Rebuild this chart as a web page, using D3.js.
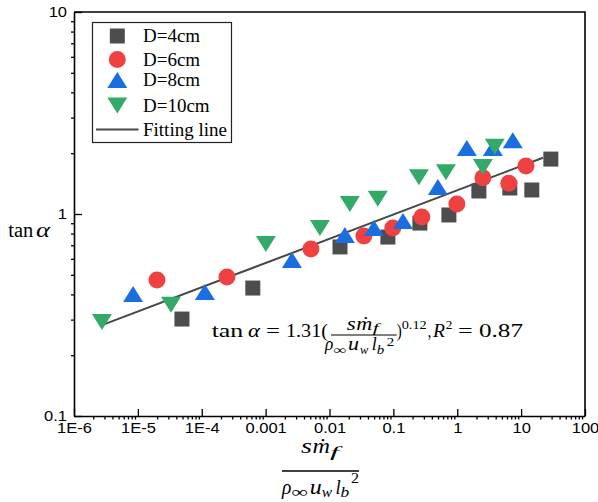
<!DOCTYPE html>
<html>
<head>
<meta charset="utf-8">
<script src="https://cdn.jsdelivr.net/npm/d3@7"></script>
<style>
  body { margin: 0; background: #fff; }
  svg { display: block; }
</style>
</head>
<body>
<svg id="chart" width="598" height="502"></svg>
<script>
// ---- data ----
const seriesNames = ["D=4cm", "D=6cm", "D=8cm", "D=10cm"];
const seriesColors = ["#4d4d4d", "#ef4142", "#1a6ee0", "#34aa68"];

const d4x = [4.9e-5, 6.3e-4, 0.0146, 0.082, 0.26, 0.74, 2.18, 6.65, 14.7, 29.2];
const d4y = [0.302, 0.430, 0.687, 0.769, 0.902, 0.989, 1.30, 1.345, 1.315, 1.87];

const d6x = [1.99e-5, 2.48e-4, 5.12e-3, 0.0345, 0.098, 0.279, 0.986, 2.52, 6.42, 11.9];
const d6y = [0.471, 0.488, 0.671, 0.778, 0.853, 0.966, 1.12, 1.51, 1.42, 1.73];

const d8x = [8.4e-6, 1.12e-4, 2.58e-3, 0.0174, 0.0495, 0.141, 0.497, 1.41, 3.61, 7.41];
const d8y = [0.402, 0.411, 0.592, 0.787, 0.853, 0.923, 1.36, 2.12, 2.12, 2.32];

const d10x = [2.74e-6, 3.3e-5, 1.01e-3, 7.08e-3, 0.0208, 0.057, 0.251, 0.664, 2.52, 3.87];
const d10y = [0.292, 0.355, 0.710, 0.853, 1.12, 1.19, 1.52, 1.61, 1.71, 2.15];

const xTickValues = [1e-6, 1e-5, 1e-4, 1e-3, 1e-2, 1e-1, 1, 10, 100];
const xTickLabels = ["1E-6", "1E-5", "1E-4", "0.001", "0.01", "0.1", "1", "10", "100"];
const yTickValues = [0.1, 1, 10];
const yTickLabels = ["0.1", "1", "10"];

// power-law fit: tan(alpha) = a * X^b
const fitCoef = 1.31;
const fitExp = 0.12;
const fitR2 = 0.87;
const fitRange = [2.8e-6, 22];

// ---- layout ----
const W = 598, H = 502;
const margin = { top: 12, right: 13, bottom: 86, left: 74 };
const svg = d3.select("#chart");

const x = d3.scaleLog().domain([1e-6, 100]).range([margin.left, W - margin.right]);
const y = d3.scaleLog().domain([0.1, 10]).range([H - margin.bottom, margin.top]);

const sansFont = "'Liberation Sans', Arial, sans-serif";
const serifFont = "'Liberation Serif', 'Times New Roman', serif";

function minorTicks(majors) {
  const out = [];
  for (let i = 0; i < majors.length - 1; i++)
    for (let m = 2; m <= 9; m++) out.push(majors[i] * m);
  return out;
}

// widen axis labels a little (wide sans face)
function widen(sel, k) {
  sel.each(function () {
    const w = this.getComputedTextLength();
    d3.select(this).attr("textLength", w * k).attr("lengthAdjust", "spacingAndGlyphs");
  });
}

// ---- x axis ----
const gxMinor = svg.append("g")
  .attr("transform", `translate(0,${y.range()[0]})`)
  .call(d3.axisBottom(x).tickValues(minorTicks(xTickValues)).tickSize(3.5).tickFormat(""));
gxMinor.select(".domain").remove();

const gx = svg.append("g")
  .attr("transform", `translate(0,${y.range()[0]})`)
  .call(d3.axisBottom(x).tickValues(xTickValues)
    .tickSizeInner(-7).tickSizeOuter(0).tickPadding(7)
    .tickFormat((d, i) => xTickLabels[i]));

// ---- y axis ----
const gyMinor = svg.append("g")
  .attr("transform", `translate(${x.range()[0]},0)`)
  .call(d3.axisLeft(y).tickValues(minorTicks(yTickValues)).tickSize(3).tickFormat(""));
gyMinor.select(".domain").remove();

const gy = svg.append("g")
  .attr("transform", `translate(${x.range()[0]},0)`)
  .call(d3.axisLeft(y).tickValues(yTickValues)
    .tickSizeInner(-8).tickSizeOuter(0).tickPadding(7)
    .tickFormat((d, i) => yTickLabels[i]));

[gx, gy, gxMinor, gyMinor].forEach(g => {
  g.attr("color", "#000");
  g.selectAll(".tick line").attr("stroke-width", 1.3);
  g.selectAll(".domain").attr("stroke-width", 1.6);
  g.selectAll("text").attr("font-family", sansFont).attr("font-size", 14).attr("fill", "#000");
});
widen(gx.selectAll(".tick text"), 1.18);
widen(gy.selectAll(".tick text"), 1.18);

// top and right frame
svg.append("path")
  .attr("d", `M${x.range()[0]},${y.range()[1]}H${x.range()[1]}V${y.range()[0]}`)
  .attr("fill", "none").attr("stroke", "#000").attr("stroke-width", 1.6);

// ---- fitting line ----
const fitPts = fitRange.map(v => [v, fitCoef * Math.pow(v, fitExp)]);
svg.append("path")
  .attr("d", d3.line().x(d => x(d[0])).y(d => y(d[1]))(fitPts))
  .attr("fill", "none").attr("stroke", "#474747").attr("stroke-width", 2);

// ---- markers ----
const shapes = [
  d3.symbol(d3.symbolSquare, 225)(),
  d3.symbol(d3.symbolCircle, 227)(),
  "M0,-8L10,8L-10,8Z",
  "M0,8L10,-8L-10,-8Z"
];
const seriesX = [d4x, d6x, d8x, d10x];
const seriesY = [d4y, d6y, d8y, d10y];

seriesX.forEach((xs, s) => {
  const pts = xs.map((v, i) => [v, seriesY[s][i]]);
  svg.append("g").selectAll("path").data(pts).join("path")
    .attr("d", shapes[s])
    .attr("transform", d => `translate(${x(d[0])},${y(d[1])})`)
    .attr("fill", seriesColors[s]);
});

// ---- legend ----
const lg = svg.append("g");
lg.append("rect").attr("x", 92.5).attr("y", 22.5).attr("width", 139).attr("height", 120)
  .attr("fill", "#fff").attr("stroke", "#222").attr("stroke-width", 1.2);
const rowY = [36, 59.5, 80, 105.5];
seriesNames.forEach((name, s) => {
  lg.append("path").attr("d", shapes[s])
    .attr("transform", `translate(117.3,${rowY[s]})`).attr("fill", seriesColors[s]);
  lg.append("text").attr("x", 143).attr("y", rowY[s] + 6)
    .attr("font-family", serifFont).attr("font-size", 19).text(name);
});
lg.append("line").attr("x1", 96).attr("x2", 138.5).attr("y1", 129.5).attr("y2", 129.5)
  .attr("stroke", "#474747").attr("stroke-width", 2);
lg.append("text").attr("x", 143).attr("y", 135.5)
  .attr("font-family", serifFont).attr("font-size", 19).text("Fitting line");

// ---- math text helper ----
function mathRun(parent, pieces) {
  pieces.forEach(p => {
    const t = parent.append("text")
      .attr("x", p.x).attr("y", p.y)
      .attr("font-family", serifFont)
      .attr("font-size", p.s)
      .attr("font-style", p.it ? "italic" : "normal")
      .text(p.t);
    if (p.w) t.attr("textLength", p.w).attr("lengthAdjust", "spacingAndGlyphs");
  });
}

// equation annotation
const eq = svg.append("g");
const B = 337, S = 18.5, s = 12;
mathRun(eq, [
  { t: "tan", x: 211.7, y: B, s: S, w: 31.6 },
  { t: "α", x: 248, y: B, s: S, it: true, w: 12 },
  { t: "=", x: 266, y: B, s: S, w: 14 },
  { t: fitCoef.toFixed(2) + "(", x: 286, y: B, s: S, w: 42 },
  // numerator
  { t: "s", x: 346.7, y: 330, s: S, it: true, w: 9 },
  { t: "ṁ", x: 356.2, y: 330, s: S, it: true, w: 16 },
  { t: "f", x: 372.8, y: 332, s: s, it: true, w: 6 },
  // denominator
  { t: "ρ", x: 325, y: 350, s: S, it: true, w: 8.3 },
  { t: "∞", x: 333.3, y: 354, s: s, w: 13.3 },
  { t: "u", x: 348, y: 350, s: S, it: true, w: 11 },
  { t: "w", x: 360, y: 354, s: s, it: true, w: 8.3 },
  { t: "l", x: 371.7, y: 350, s: S, it: true, w: 5 },
  { t: "b", x: 376.7, y: 354, s: s, it: true, w: 7.5 },
  { t: "2", x: 386.7, y: 346, s: s, w: 7.5 },
  { t: ")", x: 396.7, y: B, s: S, w: 5 },
  { t: String(fitExp), x: 401.7, y: 329, s: s, w: 25 },
  { t: ",", x: 427.7, y: B, s: S, w: 3.5 },
  { t: "R", x: 433, y: B, s: S, it: true, w: 12 },
  { t: "2", x: 445.7, y: 329, s: s, w: 6.6 },
  { t: "=", x: 458, y: B, s: S, w: 14.7 },
  { t: fitR2.toFixed(2), x: 479, y: B, s: S, w: 44 }
]);
eq.append("line").attr("x1", 331).attr("x2", 396.7).attr("y1", 335).attr("y2", 335)
  .attr("stroke", "#000").attr("stroke-width", 1.2);

// x axis title (fraction)
const xt = svg.append("g");
const XS = 21, xs = 15;
mathRun(xt, [
  { t: "s", x: 301, y: 453, s: XS, it: true, w: 11 },
  { t: "ṁ", x: 312.5, y: 453, s: XS, it: true, w: 17.5 },
  { t: "f", x: 330, y: 457, s: xs, it: true, w: 9 },
  { t: "ρ", x: 282, y: 493.7, s: XS, it: true, w: 9.4 },
  { t: "∞", x: 291.4, y: 497, s: xs, w: 16.6 },
  { t: "u", x: 309.7, y: 493.7, s: XS, it: true, w: 12 },
  { t: "w", x: 321.7, y: 497, s: xs, it: true, w: 10.3 },
  { t: "l", x: 335.4, y: 493.7, s: XS, it: true, w: 5.2 },
  { t: "b", x: 340.6, y: 497, s: xs, it: true, w: 8.7 },
  { t: "2", x: 351, y: 483, s: xs, w: 8 }
]);
xt.append("line").attr("x1", 282).attr("x2", 359).attr("y1", 471).attr("y2", 471)
  .attr("stroke", "#000").attr("stroke-width", 1.3);

// y axis title
const yt = svg.append("g");
mathRun(yt, [
  { t: "tan", x: 8.3, y: 237, s: 20, w: 25 },
  { t: "α", x: 36, y: 237, s: 20, it: true, w: 14 }
]);
</script>
</body>
</html>
